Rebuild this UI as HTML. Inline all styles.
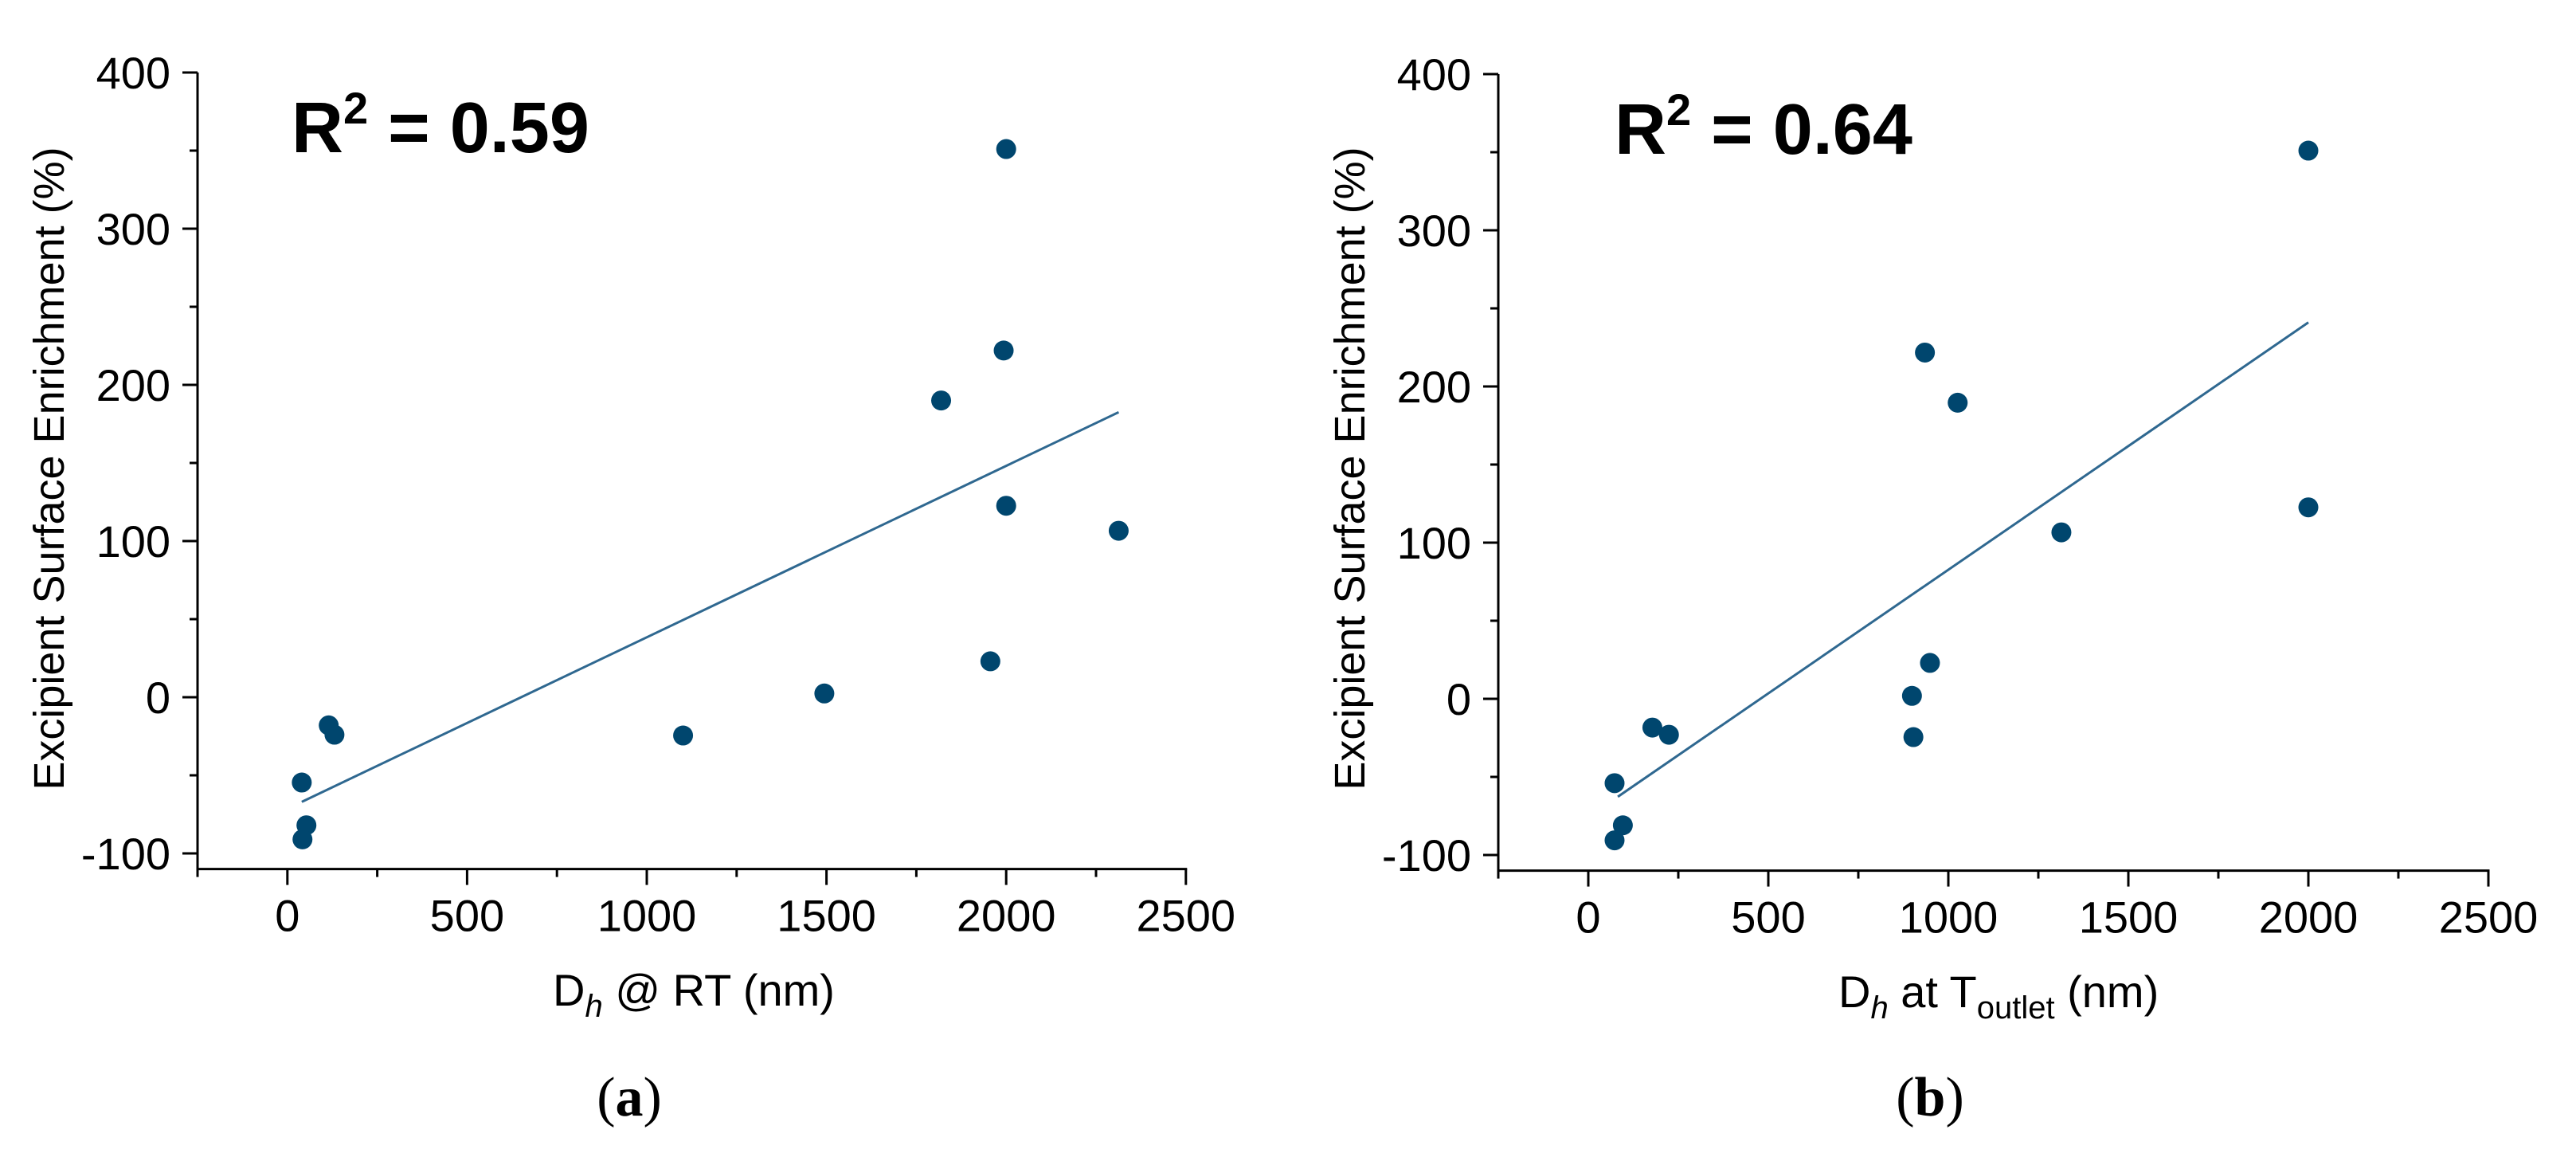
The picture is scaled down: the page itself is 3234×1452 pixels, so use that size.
<!DOCTYPE html>
<html><head><meta charset="utf-8"><style>
html,body{margin:0;padding:0;background:#fff;}
svg{display:block;font-family:"Liberation Sans",Arial,sans-serif;}
</style></head><body>
<svg id="fig" width="3234" height="1452" viewBox="0 0 3234 1452" xmlns="http://www.w3.org/2000/svg">
<g id="panelA"></g>
<g id="panelB"></g>
</svg>
<script>
// Panel (a) data
const aX = [2000, 1993, 1819, 2000, 2313, 1956, 1494, 1101, 115, 131, 40, 53, 42];
const aY = [351, 222, 190, 122.6, 106.6, 23, 2.4, -24.5, -18, -24, -54.6, -82, -91];
const aFitX = [40, 2313];
const aFitY = [-67, 182.5];
// Panel (b) data
const bX = [2000, 935, 1026, 2000, 1314, 949, 899, 903, 178, 224, 73, 96, 73];
const bY = [351, 221.7, 189.6, 122.6, 106.6, 23, 1.9, -24.5, -18.4, -23, -54, -81, -90.6];
const bFitX = [82, 2000];
const bFitY = [-62.7, 241];
// Tick labels
const xTicks = [0, 500, 1000, 1500, 2000, 2500];
const yTicks = [-100, 0, 100, 200, 300, 400];
const xMinor = [-250, 250, 750, 1250, 1750, 2250];
const yMinor = [-50, 50, 150, 250, 350];

const NS = "http://www.w3.org/2000/svg";
function mk(parent, tag, attrs, text){
  const e = document.createElementNS(NS, tag);
  for (const k in attrs) e.setAttribute(k, attrs[k]);
  if (text !== undefined) e.textContent = text;
  parent.appendChild(e);
  return e;
}

function panel(g, cfg){
  const X = v => cfg.x0 + (v - (-250)) * cfg.sx;
  const Y = v => cfg.yZero - v * 1.96;
  const xl = X(-250), xr = X(2500), yb = Y(-110), yt = Y(400);
  // axes
  const ya = mk(g, 'line', {x1:xl, y1:yt, x2:xl, y2:yb, stroke:'#000', 'stroke-width':3});
  
  
  const xa = mk(g, 'line', {x1:xl-1.5, y1:yb, x2:xr+1.5, y2:yb, stroke:'#000', 'stroke-width':3});
  
  
  // y ticks
  yTicks.forEach(v => {
    const t = mk(g, 'line', {x1:xl-19, y1:Y(v), x2:xl, y2:Y(v), stroke:'#000', 'stroke-width':3});
    
    
    const l = mk(g, 'text', {x:xl-34, y:Y(v)+20, 'font-size':56, 'text-anchor':'end', fill:'#000'}, String(v));
    
    
  });
  yMinor.forEach(v => {
    const t = mk(g, 'line', {x1:xl-10, y1:Y(v), x2:xl, y2:Y(v), stroke:'#000', 'stroke-width':3});
    
    
  });
  xTicks.forEach(v => {
    const t = mk(g, 'line', {x1:X(v), y1:yb, x2:X(v), y2:yb+20, stroke:'#000', 'stroke-width':3});
    
    
    const l = mk(g, 'text', {x:X(v), y:yb+78, 'font-size':56, 'text-anchor':'middle', fill:'#000'}, String(v));
    
    
  });
  xMinor.forEach(v => {
    const t = mk(g, 'line', {x1:X(v), y1:yb, x2:X(v), y2:yb+10, stroke:'#000', 'stroke-width':3});
    
    
  });
  // fit line
  const fl = mk(g, 'line', {x1:X(cfg.fx[0]), y1:Y(cfg.fy[0]), x2:X(cfg.fx[1]), y2:Y(cfg.fy[1]), stroke:'#2f6890', 'stroke-width':3});
  
  
  // points
  cfg.xs.forEach((v, i) => {
    const c = mk(g, 'circle', {cx:X(v), cy:Y(cfg.ys[i]), r:12.5, fill:'#00466e'});
    
    
  });
  // y title
  const yt2 = mk(g, 'text', {x:0, y:0, 'font-size':54, 'text-anchor':'middle', fill:'#000',
    transform:`translate(${cfg.yTitleX},588) rotate(-90)`}, 'Excipient Surface Enrichment (%)');
  
  
  // R2
  const r = mk(g, 'text', {x:cfg.rX, y:cfg.yZero-684, 'font-size':90, 'font-weight':'bold', fill:'#000'});
  
  
  mk(r, 'tspan', {}, 'R');
  mk(r, 'tspan', {'font-size':56, dy:-36}, '2');
  mk(r, 'tspan', {dy:36}, ' = ' + cfg.r2);
  return {X, Y, yb};
}

const A = panel(document.getElementById('panelA'), {x0:248, sx:0.4512, yZero:875, xs:aX, ys:aY, fx:aFitX, fy:aFitY, yTitleX:80, rX:366, r2:'0.59'});
const B = panel(document.getElementById('panelB'), {x0:1881, sx:0.452, yZero:877, xs:bX, ys:bY, fx:bFitX, fy:bFitY, yTitleX:1713, rX:2027, r2:'0.64'});

// x titles & captions
const ga = document.getElementById('panelA'), gb = document.getElementById('panelB');
let t = mk(ga, 'text', {x:694, y:1262, 'font-size':56, fill:'#000'});


mk(t, 'tspan', {}, 'D');
mk(t, 'tspan', {'font-style':'italic', 'font-size':40, dy:14}, 'h');
mk(t, 'tspan', {dy:-14}, ' @ RT (nm)');

t = mk(gb, 'text', {x:2308, y:1264, 'font-size':56, fill:'#000'});


mk(t, 'tspan', {}, 'D');
mk(t, 'tspan', {'font-style':'italic', 'font-size':40, dy:14}, 'h');
mk(t, 'tspan', {dy:-14}, ' at T');
mk(t, 'tspan', {'font-size':40, dy:14}, 'outlet');
mk(t, 'tspan', {dy:-14}, ' (nm)');

t = mk(ga, 'text', {x:790, y:1400, 'font-size':70, 'text-anchor':'middle', fill:'#000', 'font-family':'Liberation Serif, serif'});


mk(t, 'tspan', {}, '(');
mk(t, 'tspan', {'font-weight':'bold'}, 'a');
mk(t, 'tspan', {}, ')');

t = mk(gb, 'text', {x:2423, y:1400, 'font-size':70, 'text-anchor':'middle', fill:'#000', 'font-family':'Liberation Serif, serif'});


mk(t, 'tspan', {}, '(');
mk(t, 'tspan', {'font-weight':'bold'}, 'b');
mk(t, 'tspan', {}, ')');
</script>
</body></html>
